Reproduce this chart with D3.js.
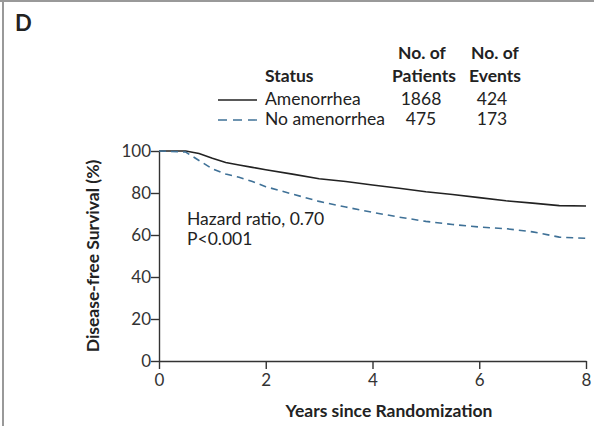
<!DOCTYPE html>
<html lang="en">
<head>
<meta charset="UTF-8">
<title>Disease-free Survival</title>
<script src="https://cdn.jsdelivr.net/npm/d3@7"></script>
<style>
  body { margin: 0; background: #fff; }
  svg { font-family: Lato, "Open Sans", sans-serif; }
  .axis path, .axis line { stroke: #333; stroke-width: 1.4; }
  .axis text { fill: #333; font-size: 17px; font-family: Lato, sans-serif; }
  .lbl { fill: #222; font-size: 17.5px; }
  .hdr { fill: #222; font-size: 17.5px; font-weight: bold; }
</style>
</head>
<body>
<script>
// survival estimates (year, % event-free)
var years = [0, 0.5, 0.75, 1, 1.25, 1.5, 1.75, 2, 2.5, 3, 3.5, 4, 4.5, 5, 5.5, 6, 6.5, 7, 7.5, 8];
var amenorrhea = [100, 100, 98.8, 96.5, 94.5, 93.3, 92.2, 91.1, 89, 86.8, 85.5, 83.8, 82.3, 80.6, 79.3, 77.8, 76.3, 75.2, 74.0, 73.8];
var noAmenorrhea = [100, 99.5, 95.5, 91.5, 89, 87.5, 85.5, 83, 79.5, 76, 73.3, 70.8, 68.5, 66.5, 65, 63.8, 63, 61.5, 59, 58.4];

var xTicks = [0, 2, 4, 6, 8];
var yTicks = [0, 20, 40, 60, 80, 100];

var legendRows = [
  {status: "Amenorrhea", patients: 1868, events: 424, dash: null, color: "#222"},
  {status: "No amenorrhea", patients: 475, events: 173, dash: "9,6", color: "#3f7197"}
];

var W = 594, H = 426;
var svg = d3.select("body").append("svg")
  .attr("width", W)
  .attr("height", H);

// frame edges, like the scanned page
svg.append("line").attr("x1", 3).attr("x2", 3).attr("y1", 0).attr("y2", H)
  .attr("stroke", "#999").attr("stroke-width", 2);
svg.append("line").attr("x1", 0).attr("x2", W).attr("y1", 1).attr("y2", 1)
  .attr("stroke", "#999").attr("stroke-width", 2);

svg.append("text").attr("x", 15).attr("y", 31)
  .attr("font-size", 22).attr("font-weight", "bold").attr("fill", "#222")
  .text("D");

var x = d3.scaleLinear().domain([0, 8]).range([159, 586]);
var y = d3.scaleLinear().domain([0, 100]).range([361, 151]);

svg.append("g")
  .attr("class", "axis")
  .attr("transform", "translate(0," + y(0) + ")")
  .call(d3.axisBottom(x).tickValues(xTicks).tickSize(8).tickSizeOuter(0).tickPadding(5));

svg.append("g")
  .attr("class", "axis")
  .attr("transform", "translate(" + x(0) + ",0)")
  .call(d3.axisLeft(y).tickValues(yTicks).tickSize(8).tickSizeOuter(0).tickPadding(0));

var line = d3.line()
  .x(function(d) { return x(d[0]); })
  .y(function(d) { return y(d[1]); });

svg.append("path")
  .datum(d3.zip(years, amenorrhea))
  .attr("fill", "none")
  .attr("stroke", legendRows[0].color)
  .attr("stroke-width", 1.6)
  .attr("d", line);

svg.append("path")
  .datum(d3.zip(years, noAmenorrhea))
  .attr("fill", "none")
  .attr("stroke", legendRows[1].color)
  .attr("stroke-width", 1.6)
  .attr("stroke-dasharray", "7,5")
  .attr("d", line);

// axis titles
svg.append("text").attr("class", "hdr")
  .attr("text-anchor", "middle")
  .attr("transform", "translate(99," + y(50) + ") rotate(-90)")
  .attr("font-size", 19.5)
  .text("Disease-free Survival (%)");

svg.append("text").attr("class", "hdr")
  .attr("text-anchor", "middle")
  .attr("font-size", 19.5)
  .attr("x", 389).attr("y", 417)
  .text("Years since Randomization");

// hazard ratio
svg.append("text").attr("class", "lbl").attr("font-size", 17).attr("x", 187).attr("y", 225).text("Hazard ratio, 0.70");
svg.append("text").attr("class", "lbl").attr("font-size", 17).attr("x", 187).attr("y", 245).text("P<0.001");

// legend table
svg.append("text").attr("class", "hdr").attr("x", 422).attr("y", 59).attr("text-anchor", "middle").text("No. of");
svg.append("text").attr("class", "hdr").attr("x", 495).attr("y", 59).attr("text-anchor", "middle").text("No. of");
svg.append("text").attr("class", "hdr").attr("x", 265).attr("y", 82).text("Status");
svg.append("text").attr("class", "hdr").attr("x", 424).attr("y", 82).attr("text-anchor", "middle").text("Patients");
svg.append("text").attr("class", "hdr").attr("x", 495).attr("y", 82).attr("text-anchor", "middle").text("Events");

var row = svg.selectAll(".row").data(legendRows).enter().append("g")
  .attr("transform", function(d, i) { return "translate(0," + (105 + i * 20) + ")"; });

row.append("line")
  .attr("x1", 218).attr("x2", 257).attr("y1", -5).attr("y2", -5)
  .attr("stroke", function(d) { return d.color; })
  .attr("stroke-width", 1.4)
  .attr("stroke-dasharray", function(d) { return d.dash; });
row.append("text").attr("class", "lbl").attr("x", 265).text(function(d) { return d.status; });
row.append("text").attr("class", "lbl").attr("x", 421).attr("text-anchor", "middle").text(function(d) { return d.patients; });
row.append("text").attr("class", "lbl").attr("x", 492).attr("text-anchor", "middle").text(function(d) { return d.events; });
</script>
</body>
</html>
